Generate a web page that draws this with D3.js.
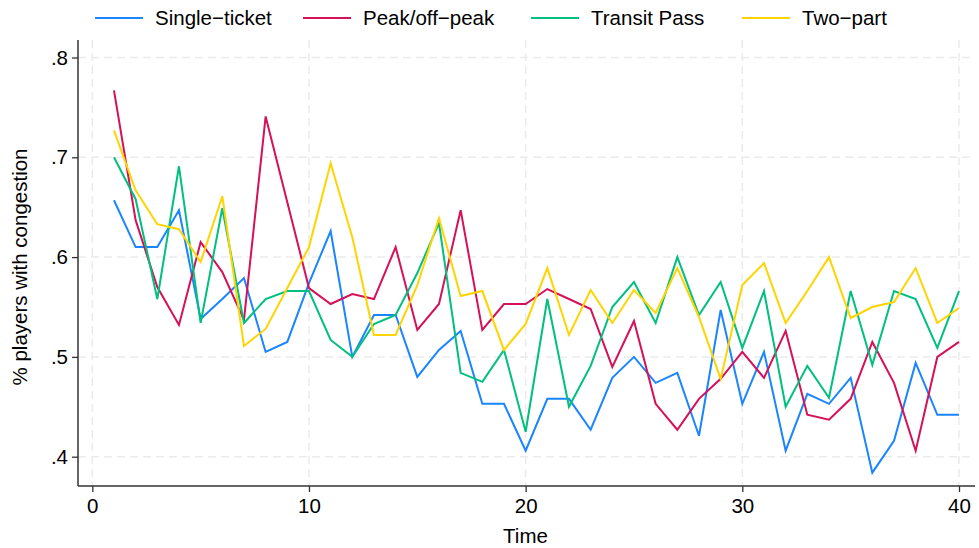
<!DOCTYPE html>
<html>
<head>
<meta charset="utf-8">
<script src="https://cdn.jsdelivr.net/npm/d3@7"></script>
<style>
  body { margin: 0; background: #fff; }
  svg { font-family: "Liberation Sans", Arial, sans-serif; }
</style>
</head>
<body>
<svg id="chart"></svg>
<script>
// Data
const time = d3.range(1, 41);
const seriesNames = ["Single\u2212ticket", "Peak/off\u2212peak", "Transit Pass", "Two\u2212part"];
const seriesColors = ["#1a85ff", "#d41159", "#00bf7f", "#ffd400"];

const singleTicket = [0.657, 0.610, 0.610, 0.647, 0.538, 0.558, 0.579, 0.505, 0.515, 0.574,
                      0.626, 0.500, 0.542, 0.542, 0.480, 0.507, 0.526, 0.453, 0.453, 0.406,
                      0.458, 0.458, 0.427, 0.479, 0.500, 0.474, 0.484, 0.421, 0.547, 0.453,
                      0.505, 0.406, 0.463, 0.453, 0.479, 0.384, 0.416, 0.494, 0.442, 0.442];
const peakOffPeak = [0.767, 0.637, 0.570, 0.532, 0.615, 0.585, 0.537, 0.741, 0.655, 0.569,
                     0.553, 0.563, 0.558, 0.610, 0.527, 0.553, 0.647, 0.527, 0.553, 0.553,
                     0.568, 0.558, 0.548, 0.490, 0.536, 0.453, 0.427, 0.458, 0.478, 0.505,
                     0.479, 0.526, 0.442, 0.437, 0.458, 0.515, 0.474, 0.406, 0.500, 0.515];
const transitPass = [0.700, 0.658, 0.558, 0.691, 0.534, 0.649, 0.534, 0.558, 0.566, 0.566,
                     0.517, 0.500, 0.533, 0.542, 0.584, 0.634, 0.484, 0.475, 0.507, 0.425,
                     0.558, 0.450, 0.491, 0.550, 0.575, 0.534, 0.600, 0.542, 0.575, 0.509,
                     0.566, 0.450, 0.491, 0.459, 0.566, 0.492, 0.566, 0.558, 0.509, 0.566];
const twoPart = [0.727, 0.667, 0.633, 0.628, 0.595, 0.661, 0.511, 0.528, 0.569, 0.610,
                 0.694, 0.620, 0.522, 0.522, 0.572, 0.639, 0.561, 0.566, 0.507, 0.533,
                 0.589, 0.522, 0.567, 0.534, 0.567, 0.544, 0.589, 0.540, 0.478, 0.572,
                 0.594, 0.534, 0.566, 0.600, 0.539, 0.550, 0.555, 0.589, 0.534, 0.549];

const xTicks = [0, 10, 20, 30, 40];
const yTicks = [0.4, 0.5, 0.6, 0.7, 0.8];

const allSeries = [singleTicket, peakOffPeak, transitPass, twoPart];

// Dimensions
const width = 979;
const height = 548;
const plot = { left: 78, right: 975, top: 40, bottom: 486 };
const fontSize = "20.5px";

const svg = d3.select("#chart")
              .attr("width", width)
              .attr("height", height);

// Scales
const xScale = d3.scaleLinear()
                 .domain([0, 40])
                 .range([92.3, 959]);

const yScale = d3.scaleLinear()
                 .domain([0.4, 0.8])
                 .range([456.7, 57.5]);

// Gridlines
const grid = svg.append("g")
                .attr("stroke", "#ebebeb")
                .attr("stroke-width", 1.5)
                .attr("stroke-dasharray", "8,5");

grid.selectAll(".vgrid")
    .data(xTicks)
    .enter()
    .append("line")
    .attr("x1", d => xScale(d))
    .attr("x2", d => xScale(d))
    .attr("y1", plot.top)
    .attr("y2", plot.bottom);

grid.selectAll(".hgrid")
    .data(yTicks)
    .enter()
    .append("line")
    .attr("x1", plot.left)
    .attr("x2", plot.right)
    .attr("y1", d => yScale(d))
    .attr("y2", d => yScale(d));

// Lines
const line = d3.line()
               .x((d, i) => xScale(time[i]))
               .y(d => yScale(d));

svg.selectAll(".series")
   .data(allSeries)
   .enter()
   .append("path")
   .attr("class", "series")
   .attr("fill", "none")
   .attr("stroke", (d, i) => seriesColors[i])
   .attr("stroke-width", 2)
   .attr("stroke-linejoin", "miter")
   .attr("d", line);

// Axes
const xAxis = d3.axisBottom(xScale)
                .tickValues(xTicks)
                .tickSize(6)
                .tickPadding(6)
                .tickFormat(d3.format("d"));

const yAxis = d3.axisLeft(yScale)
                .tickValues(yTicks)
                .tickSize(6)
                .tickPadding(4)
                .tickFormat(d => d3.format(".1f")(d).replace(/^0/, ""));

const gx = svg.append("g")
              .attr("transform", `translate(0, ${plot.bottom})`)
              .call(xAxis);

const gy = svg.append("g")
              .attr("transform", `translate(${plot.left}, 0)`)
              .call(yAxis);

[gx, gy].forEach(g => {
  g.select(".domain").remove();
  g.selectAll(".tick line").attr("stroke", "#333").attr("stroke-width", 1.3);
  g.selectAll(".tick text").attr("fill", "#000").style("font-size", fontSize);
});

// Axis lines
svg.append("line")
   .attr("x1", plot.left).attr("x2", plot.right)
   .attr("y1", plot.bottom).attr("y2", plot.bottom)
   .attr("stroke", "#333").attr("stroke-width", 1.5);

svg.append("line")
   .attr("x1", plot.left).attr("x2", plot.left)
   .attr("y1", plot.top).attr("y2", plot.bottom)
   .attr("stroke", "#333").attr("stroke-width", 1.5);

// Axis titles
svg.append("text")
   .attr("x", (plot.left + plot.right) / 2 - 1)
   .attr("y", 543)
   .attr("text-anchor", "middle")
   .style("font-size", fontSize)
   .text("Time");

svg.append("text")
   .attr("transform", `translate(27, ${(plot.top + plot.bottom) / 2 + 4}) rotate(-90)`)
   .attr("text-anchor", "middle")
   .style("font-size", fontSize)
   .text("% players with congestion");

// Legend
const legendX = [95, 303, 531, 742];
const legend = svg.selectAll(".legend")
                  .data(seriesNames)
                  .enter()
                  .append("g")
                  .attr("class", "legend")
                  .attr("transform", (d, i) => `translate(${legendX[i]}, 18)`);

legend.append("line")
      .attr("x1", 0).attr("x2", 48)
      .attr("stroke", (d, i) => seriesColors[i])
      .attr("stroke-width", 2);

legend.append("text")
      .attr("x", 60)
      .attr("y", 7)
      .style("font-size", fontSize)
      .text(d => d);
</script>
</body>
</html>
